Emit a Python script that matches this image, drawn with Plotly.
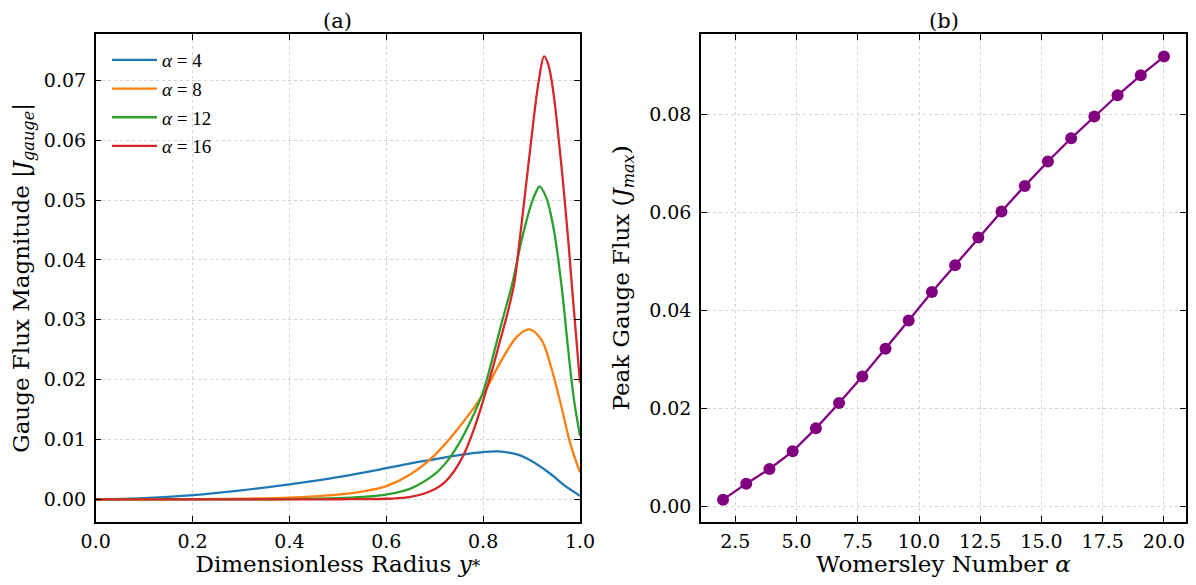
import plotly.graph_objects as go

# The page has an 8px body margin, so the figure is 16px smaller than the window
# and all reference pixel positions are shifted by OFF.
PAGE_W, PAGE_H = 1196, 585
OFF = 8
W, H = PAGE_W - 2 * OFF, PAGE_H - 2 * OFF

# ---------------- data ----------------
# Panel (a): gauge flux magnitude profiles vs dimensionless radius
y_a4 = [0.0, 0.1, 0.2, 0.3, 0.4, 0.5, 0.6, 0.65, 0.7, 0.75, 0.8, 0.83, 0.87, 0.9, 0.94, 0.97, 1.0]
j_a4 = [0.0, 0.0002, 0.0007, 0.0015, 0.0025, 0.0037, 0.0052, 0.0060, 0.0067, 0.0074, 0.0079, 0.0080,
        0.0075, 0.0064, 0.0042, 0.0022, 0.0006]

y_a8 = [0.0, 0.2, 0.3, 0.4, 0.45, 0.5, 0.55, 0.6, 0.65, 0.7, 0.75, 0.8, 0.835, 0.87, 0.895, 0.92,
        0.94, 0.96, 0.98, 1.0]
j_a8 = [0.0, 0.00003, 0.0001, 0.0003, 0.0005, 0.0008, 0.0013, 0.0022, 0.0042, 0.0074, 0.0120, 0.0176,
        0.0228, 0.0272, 0.0284, 0.0267, 0.0222, 0.0160, 0.0093, 0.0045]

y_a12 = [0.0, 0.3, 0.4, 0.5, 0.55, 0.6, 0.65, 0.7, 0.725, 0.75, 0.775, 0.8, 0.82, 0.84, 0.86, 0.88,
         0.9, 0.91, 0.916, 0.93, 0.945, 0.962, 0.975, 0.987, 1.0]
j_a12 = [0.0, 0.0, 0.00003, 0.0002, 0.0004, 0.0008, 0.0018, 0.0042, 0.0063, 0.0093, 0.0132, 0.0180,
         0.0238, 0.0300, 0.0360, 0.0435, 0.0495, 0.0515, 0.0523, 0.0505, 0.0455, 0.0356, 0.0255,
         0.0170, 0.0106]

y_a16 = [0.0, 0.4, 0.5, 0.6, 0.65, 0.7, 0.72, 0.74, 0.76, 0.78, 0.8, 0.82, 0.835, 0.85, 0.864, 0.875,
         0.885, 0.895, 0.905, 0.915, 0.926, 0.935, 0.945, 0.955, 0.965, 0.975, 0.985, 1.0]
j_a16 = [0.0, 0.0, 0.00002, 0.0001, 0.0004, 0.0017, 0.0028, 0.0047, 0.0075, 0.0115, 0.0165, 0.0220,
         0.0265, 0.0310, 0.0360, 0.0430, 0.0500, 0.0570, 0.0640, 0.0700, 0.0740, 0.0725, 0.0680,
         0.0610, 0.0530, 0.0440, 0.0340, 0.0195]

# Panel (b): peak gauge flux vs Womersley number
alpha_vals = [2.0, 2.947, 3.895, 4.842, 5.789, 6.737, 7.684, 8.632, 9.579, 10.526, 11.474, 12.421,
              13.368, 14.316, 15.263, 16.211, 17.158, 18.105, 19.053, 20.0]
j_max = [0.00136, 0.00462, 0.00761, 0.01121, 0.0159, 0.02107, 0.0265, 0.03214, 0.03792, 0.0437,
         0.0492, 0.05484, 0.06014, 0.06537, 0.07034, 0.07509, 0.07951, 0.08386, 0.08794, 0.09175]

names_a = ["<i>α</i> = 4", "<i>α</i> = 8", "<i>α</i> = 12", "<i>α</i> = 16"]
colors_a = ["#1f77b4", "#ff7f0e", "#2ca02c", "#d62728"]

ticks_xa = [0.0, 0.2, 0.4, 0.6, 0.8, 1.0]
ticks_ya = [0.0, 0.01, 0.02, 0.03, 0.04, 0.05, 0.06, 0.07]
ticks_xb = [2.5, 5.0, 7.5, 10.0, 12.5, 15.0, 17.5, 20.0]
ticks_yb = [0.0, 0.02, 0.04, 0.06, 0.08]

# ---------------- figure ----------------
FONT = "DejaVu Serif"


def px_x(p):
    return (p - OFF) / W


def px_y(p):
    return (H - (p - OFF)) / H


fig = go.Figure()

series_a = [(y_a4, j_a4), (y_a8, j_a8), (y_a12, j_a12), (y_a16, j_a16)]
for i, ((xs, ys), nm, col) in enumerate(zip(series_a, names_a, colors_a)):
    fig.add_trace(go.Scatter(
        x=xs, y=ys, mode="lines", name=nm, legendgroup=f"g{i}",
        line=dict(color=col, width=2.3, shape="spline", smoothing=1.0),
        xaxis="x", yaxis="y"))

fig.add_trace(go.Scatter(
    x=alpha_vals, y=j_max, mode="lines+markers", showlegend=False,
    line=dict(color="purple", width=2.3),
    marker=dict(color="purple", size=12),
    xaxis="x2", yaxis="y2"))

common = dict(
    showline=True, linecolor="black", linewidth=1.5, mirror="ticks",
    ticks="inside", ticklen=6, tickwidth=1.2, tickcolor="black",
    showgrid=True, gridcolor="#d4d4d4", griddash="dot", gridwidth=1,
    zeroline=False, automargin=False,
    tickfont=dict(family=FONT, size=19, color="black"),
    title_font=dict(family=FONT, size=23, color="black"),
)

x0a, x1a = px_x(95.7), px_x(580)
x0b, x1b = px_x(701), px_x(1186)
yd = [px_y(521.5), px_y(34.3)]

fig.update_layout(
    width=W, height=H,
    margin=dict(l=0, r=0, t=0, b=0, autoexpand=False),
    paper_bgcolor="white", plot_bgcolor="white",
    font=dict(family=FONT, color="black", size=19),
    xaxis=dict(common, domain=[x0a, x1a], range=[0, 1], tickvals=ticks_xa, tickformat=".1f",
               anchor="y", ticklabelstandoff=2,
               title=dict(text="Dimensionless Radius <i>y</i><span style='font-size:17px'>*</span>",
                          standoff=3)),
    yaxis=dict(common, domain=yd, range=[-0.0037, 0.0777], tickvals=ticks_ya, tickformat=".2f",
               anchor="x", ticklabelstandoff=4,
               title=dict(text="Gauge Flux Magnitude |<i>J</i><sub><i>gauge</i></sub>|", standoff=13)),
    xaxis2=dict(common, domain=[x0b, x1b], range=[1.1, 20.9], tickvals=ticks_xb, tickformat=".1f",
                anchor="y2", ticklabelstandoff=2,
                title=dict(text="Womersley Number <i>α</i>", standoff=3)),
    yaxis2=dict(common, domain=yd, range=[-0.0031, 0.0963], tickvals=ticks_yb, tickformat=".2f",
                anchor="x2", ticklabelstandoff=4,
                title=dict(text="Peak Gauge Flux (<i>J</i><sub><i>max</i></sub>)", standoff=13)),
    legend=dict(x=px_x(107), y=px_y(41), xanchor="left", yanchor="top",
                bgcolor="rgba(0,0,0,0)", tracegroupgap=1, itemwidth=45,
                font=dict(family="Liberation Serif", size=19, color="black")),
    annotations=[
        dict(text="(a)", x=(x0a + x1a) / 2, y=px_y(21), xref="paper", yref="paper",
             showarrow=False, xanchor="center", yanchor="middle",
             font=dict(family=FONT, size=21, color="black")),
        dict(text="(b)", x=(x0b + x1b) / 2, y=px_y(21), xref="paper", yref="paper",
             showarrow=False, xanchor="center", yanchor="middle",
             font=dict(family=FONT, size=21, color="black")),
    ],
)

fig.write_html("out.html")
